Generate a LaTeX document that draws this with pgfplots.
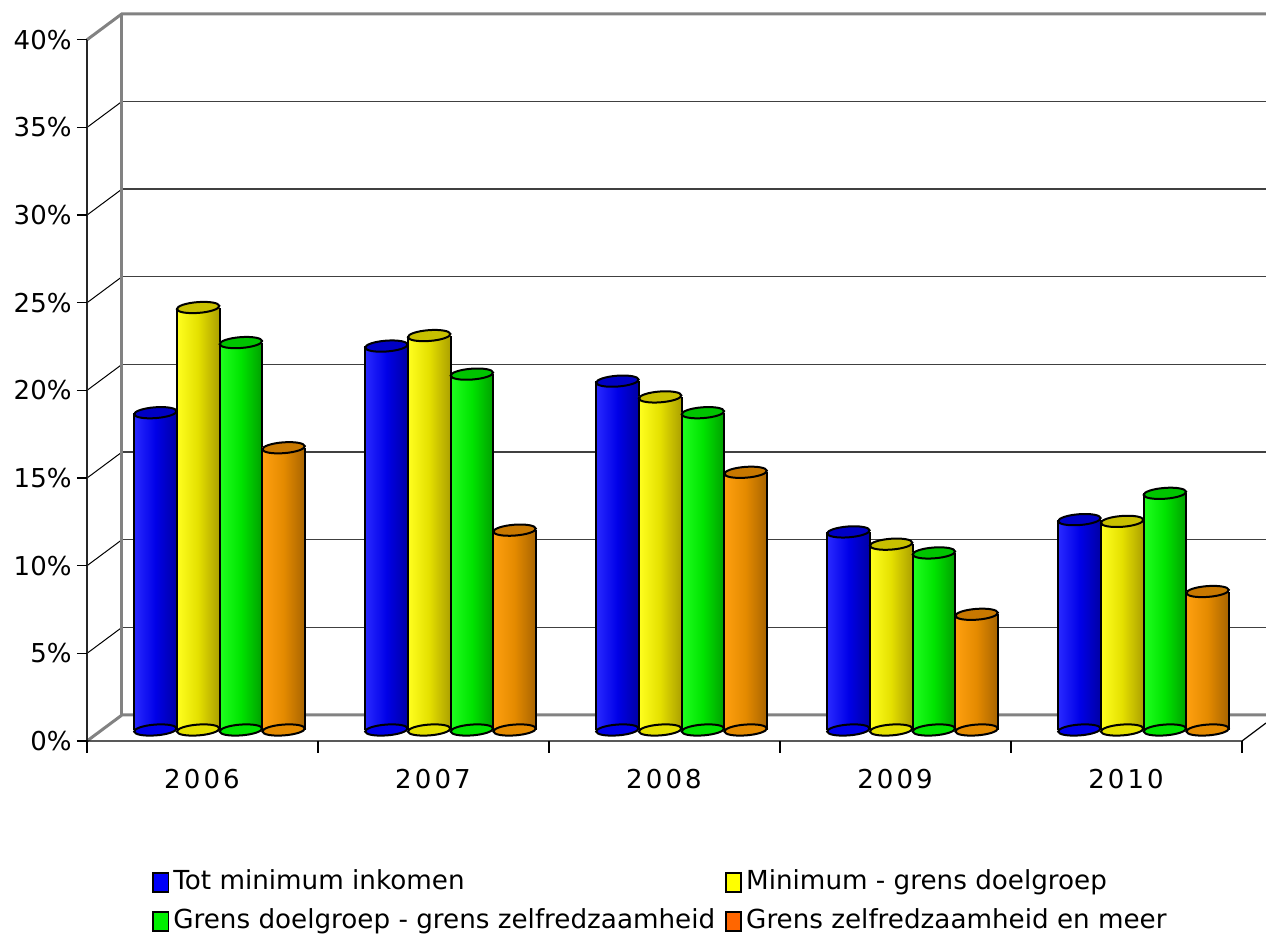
\documentclass[border=0pt]{standalone}
\usepackage{fontspec}
\setmainfont{DejaVu Sans}
\usepackage{pgfplots}
\pgfplotsset{compat=1.18}
\usepackage{pgfplotstable}

% share of households per income class and year (percent)
\pgfplotstableread{
i a b c d
0 18.1 24.1 22.1 16.1
1 21.9 22.5 20.3 11.4
2 19.9 19.0 18.1 14.7
3 11.3 10.6 10.1 6.6
4 12.0 11.9 13.5 7.9
}\datatable

\definecolor{bluel}{HTML}{2A2AFF}\definecolor{bluem}{HTML}{0000E8}\definecolor{bluer}{HTML}{0000A4}\definecolor{bluet}{HTML}{0000C4}
\definecolor{yell}{HTML}{FFFF20}\definecolor{yelm}{HTML}{E4E000}\definecolor{yelr}{HTML}{ACA000}\definecolor{yelt}{HTML}{C8C000}
\definecolor{grel}{HTML}{20FF20}\definecolor{grem}{HTML}{00E400}\definecolor{grer}{HTML}{00A000}\definecolor{gret}{HTML}{00C400}
\definecolor{orl}{HTML}{FFA010}\definecolor{orm}{HTML}{E48A00}\definecolor{orr}{HTML}{A86400}\definecolor{ort}{HTML}{C87800}
\definecolor{legblue}{HTML}{0000F8}\definecolor{legyel}{HTML}{FFFF00}
\definecolor{leggre}{HTML}{00F000}\definecolor{legor}{HTML}{FF6600}
\definecolor{wallgray}{HTML}{828282}\definecolor{gridgray}{HTML}{404040}

% end face of a cylinder: a slightly tilted ellipse
\pgfdeclareplotmark{cylcap}{%
  \pgfpathellipse{\pgfpointorigin}{\pgfqpoint{10.6pt}{0.8pt}}{\pgfqpoint{-0.2pt}{2.7pt}}%
  \pgfusepathqfillstroke}

% body of a single cylinder (rows #6 to #7-1 only), shaded left to right
\newcommand{\onebar}[7]{%
  \addplot[forget plot, ybar, bar width=0.185, bar shift=0pt, draw=none,
    left color=#3, right color=#5, middle color=#4,
    skip coords between index={0}{#6}, skip coords between index={#7}{5}]
    table[x expr=\thisrow{i}+#2, y=#1] {\datatable};
}

% one series of cylinders: column, offset, left/mid/right shade, cap colour
\newcommand{\cylinder}[6]{%
  \addplot[forget plot, only marks, mark=cylcap, mark options={fill=#4, draw=black, line width=1pt}]
    table[x expr=\thisrow{i}+#2, y expr=0] {\datatable};
  \onebar{#1}{#2}{#3}{#4}{#5}{0}{1}
  \onebar{#1}{#2}{#3}{#4}{#5}{1}{2}
  \onebar{#1}{#2}{#3}{#4}{#5}{2}{3}
  \onebar{#1}{#2}{#3}{#4}{#5}{3}{4}
  \onebar{#1}{#2}{#3}{#4}{#5}{4}{5}
  \addplot[forget plot, ycomb, black, line width=1pt]
    table[x expr=\thisrow{i}+#2-0.0925, y=#1] {\datatable};
  \addplot[forget plot, ycomb, black, line width=1pt]
    table[x expr=\thisrow{i}+#2+0.0925, y=#1] {\datatable};
  \addplot[forget plot, only marks, mark=cylcap, mark options={fill=#6, draw=black, line width=1pt}]
    table[x expr=\thisrow{i}+#2, y=#1] {\datatable};
}

\begin{document}
\begin{tikzpicture}
\begin{axis}[
  at={(43.5pt,98.5pt)}, anchor=south west,
  scale only axis, width=589.5pt, height=364pt,
  xmin=-0.5736, xmax=4.5303, ymin=-0.6275, ymax=40.90,
  clip=false, set layers,
  axis line style={draw=none}, major tick length=0pt,
  xtick={0,1,2,3,4}, xticklabels={2006,2007,2008,2009,2010},
  ytick={0,5,...,40}, yticklabel={\pgfmathprintnumber{\tick}\%},
  /pgf/number format/assume math mode=true,
  ticklabel style={font=\fontsize{13}{15}\selectfont},
  xticklabel style={xshift=-8.75pt, yshift=-10.5pt, font=\fontsize{13}{15}\selectfont\addfontfeature{LetterSpace=12}},
  yticklabel style={yshift=-5.5pt, xshift=-4.2pt},
  legend columns=2, legend cell align=left,
  legend image code/.code={\draw[#1, line width=0.9pt] (0pt,-4.8pt) rectangle (7.6pt,4.8pt);},
  legend style={at={(rel axis cs:0.05,-0.165)}, anchor=north west, draw=none, fill=none,
    font=\fontsize{13.1}{15}\selectfont, row sep=2.5pt,
    nodes={inner sep=2pt, text height=10pt, text depth=3pt},
    /tikz/every even column/.append style={column sep=3pt}},
]
\begin{pgfonlayer}{axis background}
  % back wall grid
  \pgfplotsinvokeforeach{1,...,7}{
    \draw[gridgray, line width=0.65pt] (axis cs:-0.4221,{5*#1+0.8557}) -- (axis cs:4.5303,{5*#1+0.8557});
    \draw[black, line width=0.5pt] (axis cs:-0.5736,{5*#1-0.6275}) -- (axis cs:-0.4221,{5*#1+0.8557});
  }
  % wall and floor edges
  \draw[wallgray, line width=1.5pt] (axis cs:-0.5736,-0.6275) -- (axis cs:-0.4221,0.8557) -- (axis cs:4.5303,0.8557);
  \draw[wallgray, line width=1.5pt] (axis cs:-0.5736,39.3725) -- (axis cs:-0.4221,40.8557)
    -- (axis cs:4.5303,40.8557);
  \draw[wallgray, line width=1.5pt] (axis cs:-0.4221,0.8557) -- (axis cs:-0.4221,40.8557);
  % front axes
  \draw[black!85, line width=0.8pt] (axis cs:-0.5736,-0.6275) -- (axis cs:-0.5736,39.3725);
  \draw[black, line width=0.6pt] (axis cs:-0.5736,-0.6275) -- (axis cs:4.4264,-0.6275) -- (axis cs:4.5303,0.399);
  \pgfplotsinvokeforeach{0,...,8}{
    \draw[black, line width=0.6pt] (axis cs:-0.6169,{5*#1-0.6275}) -- (axis cs:-0.5736,{5*#1-0.6275});
  }
  \pgfplotsinvokeforeach{0,...,5}{
    \draw[black, line width=0.6pt] (axis cs:{#1-0.5736},-0.6275) -- (axis cs:{#1-0.5736},-1.312);
  }
\end{pgfonlayer}

\cylinder{a}{-0.2775}{bluel}{bluem}{bluer}{bluet}
\cylinder{b}{-0.0925}{yell}{yelm}{yelr}{yelt}
\cylinder{c}{0.0925}{grel}{grem}{grer}{gret}
\cylinder{d}{0.2775}{orl}{orm}{orr}{ort}

\addlegendimage{fill=legblue, draw=black}
\addlegendentry{Tot minimum inkomen}
\addlegendimage{fill=legyel, draw=black}
\addlegendentry{Minimum - grens doelgroep}
\addlegendimage{fill=leggre, draw=black}
\addlegendentry{Grens doelgroep - grens zelfredzaamheid}
\addlegendimage{fill=legor, draw=black}
\addlegendentry{Grens zelfredzaamheid en meer}
\end{axis}
\pgfresetboundingbox
\useasboundingbox (0,0) rectangle (633pt,469pt);
\end{tikzpicture}
\end{document}
